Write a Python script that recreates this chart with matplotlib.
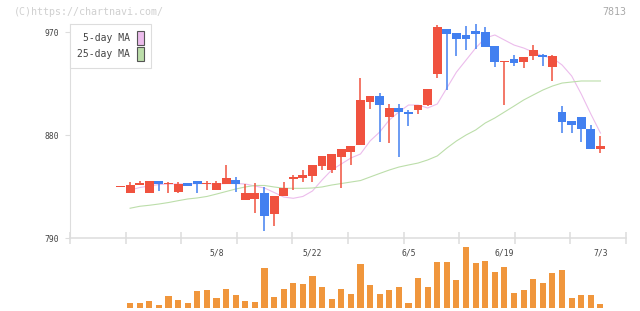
import numpy as np
import matplotlib.pyplot as plt
from matplotlib.patches import Patch

plt.rcParams['font.family'] = 'DejaVu Sans Mono'

# daily candles (51 trading days, last one 7/3)
opens = np.array([834.3, 829.6, 836.5, 829.6, 839.8, 836.9, 830.5, 838.1, 839.8, 837.0,
                  831.9, 837.2, 840.7, 823.2, 824.1, 829.3, 811.0, 826.7, 841.6, 842.4,
                  844.2, 852.9, 849.4, 860.8, 865.1, 871.3, 908.8, 914.1, 895.7, 903.6,
                  900.1, 901.8, 906.2, 933.3, 972.6, 969.1, 967.4, 970.9, 970.0, 957.8,
                  943.8, 946.4, 943.8, 949.0, 949.9, 939.4, 900.1, 892.2, 895.7, 885.2,
                  867.8])
highs = np.array([834.3, 838.7, 839.8, 839.8, 839.8, 838.9, 838.9, 838.1, 839.8, 839.8,
                  839.8, 853.8, 843.3, 837.2, 838.1, 834.6, 826.7, 838.9, 845.0, 849.4,
                  853.8, 861.6, 863.4, 867.8, 870.4, 929.8, 914.1, 916.7, 907.1, 907.1,
                  901.8, 906.2, 920.2, 976.1, 972.6, 969.1, 975.2, 977.0, 974.4, 957.8,
                  944.7, 949.9, 948.2, 958.6, 950.8, 949.9, 905.3, 892.2, 895.7, 888.7,
                  879.1])
lows = np.array([834.3, 829.6, 836.3, 829.6, 831.3, 829.6, 829.6, 835.4, 829.6, 832.0,
                 831.9, 837.2, 830.2, 823.2, 811.8, 796.1, 800.5, 826.7, 831.9, 838.9,
                 838.9, 849.4, 846.8, 833.7, 853.8, 871.3, 902.7, 873.9, 873.0, 860.8,
                 887.9, 898.3, 905.3, 929.8, 919.3, 949.0, 954.3, 955.1, 956.9, 939.4,
                 906.2, 940.3, 938.5, 945.5, 940.3, 927.2, 881.7, 881.7, 873.9, 867.8,
                 864.3])
closes = np.array([834.3, 836.3, 838.0, 839.8, 837.2, 838.1, 837.4, 835.4, 837.2, 838.1,
                   838.1, 842.4, 837.2, 829.3, 829.3, 809.2, 826.7, 833.7, 843.3, 845.0,
                   853.8, 861.6, 863.4, 867.8, 870.4, 910.6, 914.1, 906.2, 903.6, 900.1,
                   898.3, 906.2, 920.2, 974.4, 968.3, 963.9, 963.9, 968.3, 956.9, 943.8,
                   944.7, 942.9, 948.2, 954.3, 948.2, 949.0, 891.4, 888.7, 885.2, 867.8,
                   870.4])
volume = np.array([0, 15, 15, 21, 9, 36, 24, 15, 51, 54, 30, 57, 39, 21, 18, 120, 33, 57,
                   75, 72, 96, 63, 27, 57, 42, 132, 69, 42, 54, 63, 15, 90, 63, 138, 138,
                   84, 183, 135, 141, 108, 123, 45, 54, 87, 75, 105, 114, 30, 39, 39, 12])
ma5 = np.array([np.nan, 831.9, 834.1, 835.4, 836.7, 837.2, 837.2, 837.2, 837.6, 837.6,
                837.2, 837.6, 837.6, 837.2, 835.4, 833.7, 829.8, 825.8, 824.7, 826.3,
                831.1, 840.7, 849.4, 854.7, 859.9, 863.4, 874.8, 882.6, 893.1, 900.1,
                906.2, 906.2, 903.6, 907.1, 921.1, 935.0, 945.5, 956.0, 964.8, 967.4,
                963.0, 958.6, 956.0, 952.5, 949.0, 947.3, 941.2, 931.6, 915.8, 898.3,
                881.7])
ma25 = np.array([np.nan, 816.0, 817.7, 818.6, 819.7, 821.0, 822.6, 824.1, 825.0, 826.3,
                 828.4, 830.6, 832.8, 834.6, 835.9, 835.9, 834.6, 833.5, 833.4, 833.4,
                 833.7, 834.6, 836.3, 837.6, 838.9, 840.2, 843.3, 846.4, 849.4, 852.0,
                 853.8, 855.5, 858.2, 861.7, 868.6, 874.8, 880.0, 884.4, 890.5, 894.9,
                 900.1, 905.3, 910.6, 915.0, 919.3, 922.8, 925.4, 926.3, 927.2, 927.2,
                 927.2])
date_pos = [10, 20, 30, 40, 50]
date_labels = ['5/8', '5/22', '6/5', '6/19', '7/3']
price_ticks = [790, 880, 970]

RED = '#f0523f'
BLUE = '#4280f0'
PINK = '#ecbcec'
GREEN = '#bcdeaa'
GRID = '#dddddd'

W, H = 640, 311
def box(l, t, r, b):
    return [l / W, 1 - b / H, (r - l) / W, (b - t) / H]

fig = plt.figure(figsize=(W / 100, H / 100), dpi=100)
ax = fig.add_axes(box(70, 24, 626, 238))
axv = fig.add_axes(box(70, 245, 626, 308))

x = np.arange(len(closes))
xlim = (-5.26, 52.66)

# moving averages
ax.plot(x, ma5, color=PINK, lw=0.8, zorder=1)
ax.plot(x, ma25, color=GREEN, lw=0.8, zorder=1)

# candles
cols = np.where(closes >= opens, RED, BLUE)
ax.vlines(x, lows, highs, colors=cols, linewidth=1.1, zorder=2)
body_lo = np.minimum(opens, closes)
body_h = np.maximum(np.abs(closes - opens), 1.3)
ax.bar(x, body_h, width=0.92, bottom=body_lo, color=cols, linewidth=0, zorder=3)

ax.set_xlim(*xlim)
ax.set_ylim(790, 977)
for s in ['top', 'right']:
    ax.spines[s].set_visible(False)
ax.spines['left'].set_color(GRID)
ax.spines['left'].set_linewidth(0.8)
ax.spines['bottom'].set_color(GRID)
ax.spines['bottom'].set_linewidth(1.1)

ax.set_yticks(price_ticks)
ax.tick_params(axis='y', length=3.6, width=0.8, color=GRID, labelcolor='#444444',
               labelsize=5.8, pad=4)
ax.set_xticks(np.linspace(xlim[0], xlim[1], 11))
ax.set_xticklabels([])
ax.tick_params(axis='x', which='major', direction='inout', length=8, width=1.1, color=GRID)
ax.set_xticks(date_pos, minor=True)
ax.set_xticklabels(date_labels, minor=True)
ax.tick_params(axis='x', which='minor', length=0, labelsize=5.8, labelcolor='#444444', pad=7.5)

handles = [Patch(facecolor=PINK, edgecolor='#555555', linewidth=0.8),
           Patch(facecolor=GREEN, edgecolor='#555555', linewidth=0.8)]
leg = ax.legend(handles, ['5-day MA', '25-day MA'], loc='upper left', bbox_to_anchor=(0, 1),
                borderaxespad=0, markerfirst=False, fancybox=False, edgecolor=GRID,
                fontsize=7, handlelength=0.7, handleheight=1.75, handletextpad=0.7,
                labelspacing=0.25, borderpad=0.75, framealpha=1)
leg.get_frame().set_linewidth(0.8)
for t in leg.get_texts():
    t.set_color('#444444')

# volume
axv.bar(x, volume, width=0.63, color='#f0963c', linewidth=0)
axv.set_xlim(*xlim)
axv.set_ylim(0, 189)
axv.axis('off')

fig.text(14 / W, 1 - 12 / H, '(C)https://chartnavi.com/', ha='left', va='center',
         fontsize=7.2, color='#d0d0d0')
fig.text(626 / W, 1 - 12 / H, '7813', ha='right', va='center', fontsize=7.2, color='#aaaaaa')

fig.savefig('out.png', dpi=100)
